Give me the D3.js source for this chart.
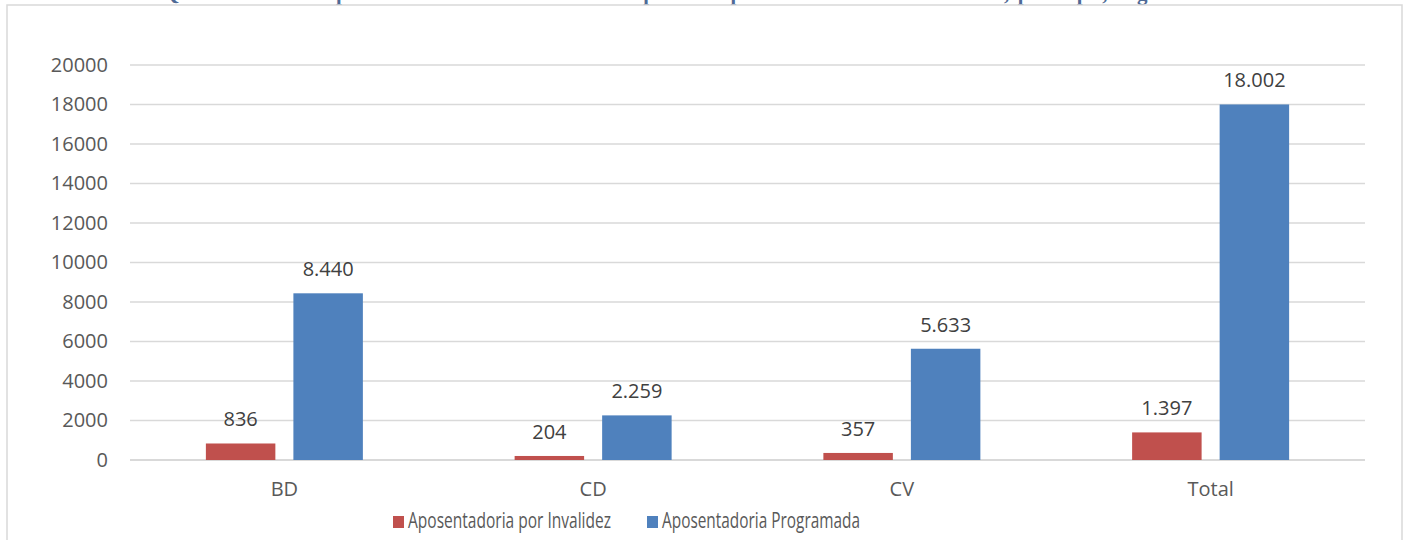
<!DOCTYPE html>
<html>
<head>
<meta charset="utf-8">
<script src="https://cdn.jsdelivr.net/npm/d3@7"></script>
<style>
  html, body { margin: 0; padding: 0; background: #fff; }
  svg { display: block; }
</style>
</head>
<body>
<svg id="chart" width="1406" height="540"></svg>
<script>
const categories = ["BD", "CD", "CV", "Total"];
const seriesNames = ["Aposentadoria por Invalidez", "Aposentadoria Programada"];
const invalidez = [836, 204, 357, 1397];
const programada = [8440, 2259, 5633, 18002];
const valueLabelsInv = ["836", "204", "357", "1.397"];
const valueLabelsProg = ["8.440", "2.259", "5.633", "18.002"];
const yTicks = [0, 2000, 4000, 6000, 8000, 10000, 12000, 14000, 16000, 18000, 20000];
const colors = ["#c0504d", "#4f81bd"];
const titlePrefix = "Gráfico 15 –";
const titleRest = "Quantidade de aposentadorias concedidas no período pelos Planos de benefícios, por tipo, segundo modalidade.";

(function () {
const svg = d3.select("#chart");
const font = "'Open Sans', 'Liberation Sans', sans-serif";

// title (clipped at top, as in the reference)
svg.append("text").attr("x", 14).attr("y", 0)
  .attr("font-family", "'Liberation Serif', serif").attr("font-weight", "bold")
  .attr("font-size", 21).attr("fill", "#4f6a96").text(titlePrefix);
svg.append("text").attr("x", 163).attr("y", 0)
  .attr("font-family", "'Liberation Serif', serif").attr("font-weight", "bold")
  .attr("font-size", 21).attr("fill", "#4f6a96")
  .attr("textLength", 1172).attr("lengthAdjust", "spacing").text(titleRest);

// chart border
svg.append("rect").attr("x", 7).attr("y", 5).attr("width", 1395).attr("height", 545)
  .attr("fill", "#fff").attr("stroke", "#d9d9d9").attr("stroke-width", 1.5);

const mLeft = 130, mRight = 1365, mTop = 65, mBottom = 460;
const y = d3.scaleLinear().domain([0, 20000]).range([mBottom, mTop]);
const x0 = d3.scaleBand().domain(categories).range([mLeft, mRight]).padding(0);
const x1 = d3.scaleBand().domain(seriesNames).range([0, x0.bandwidth()])
  .paddingInner(0.206).paddingOuter(0.867);

// gridlines
svg.append("g").selectAll("line").data(yTicks).join("line")
  .attr("x1", mLeft).attr("x2", mRight)
  .attr("y1", d => y(d)).attr("y2", d => y(d))
  .attr("stroke", "#d9d9d9").attr("stroke-width", d => d === 0 ? 2 : 1.5);

// y axis labels
const yAxis = d3.axisLeft(y).tickValues(yTicks).tickSize(0).tickPadding(0).tickFormat(d3.format("d"));
const gy = svg.append("g").attr("transform", `translate(${mLeft - 22},0)`).call(yAxis);
gy.select(".domain").remove();
gy.selectAll("text").attr("font-family", font).attr("font-size", 20).attr("fill", "#595959");

// x axis labels
const xAxis = d3.axisBottom(x0).tickSize(0).tickPadding(0);
const gx = svg.append("g").attr("transform", `translate(0,${mBottom + 22})`).call(xAxis);
gx.select(".domain").remove();
gx.selectAll("text").attr("font-family", font).attr("font-size", 20).attr("fill", "#595959");

const data = categories.map((c, i) => ({
  cat: c,
  vals: [
    { s: seriesNames[0], v: invalidez[i], lab: valueLabelsInv[i] },
    { s: seriesNames[1], v: programada[i], lab: valueLabelsProg[i] }
  ]
}));

const groups = svg.append("g").selectAll("g").data(data).join("g")
  .attr("transform", d => `translate(${x0(d.cat)},0)`);

groups.selectAll("rect").data(d => d.vals).join("rect")
  .attr("x", d => x1(d.s)).attr("width", x1.bandwidth())
  .attr("y", d => y(d.v)).attr("height", d => y(0) - y(d.v))
  .attr("fill", (d, i) => colors[i]);

groups.selectAll("text.lab").data(d => d.vals).join("text")
  .attr("class", "lab")
  .attr("x", d => x1(d.s) + x1.bandwidth() / 2)
  .attr("y", d => y(d.v) - 17)
  .attr("text-anchor", "middle")
  .attr("font-family", font).attr("font-size", 20).attr("fill", "#404040")
  .text(d => d.lab);

// legend
const legendX = [393, 647];
const legendW = [203, 198];
const lg = svg.append("g").selectAll("g").data(seriesNames).join("g")
  .attr("transform", (d, i) => `translate(${legendX[i]},516)`);
lg.append("rect").attr("width", 11).attr("height", 12).attr("fill", (d, i) => colors[i]);
lg.append("text").attr("x", 15).attr("y", 11.5)
  .attr("font-family", font).attr("font-size", 21).attr("fill", "#595959")
  .attr("textLength", (d, i) => legendW[i]).attr("lengthAdjust", "spacingAndGlyphs")
  .text(d => d);
})();
</script>
</body>
</html>
